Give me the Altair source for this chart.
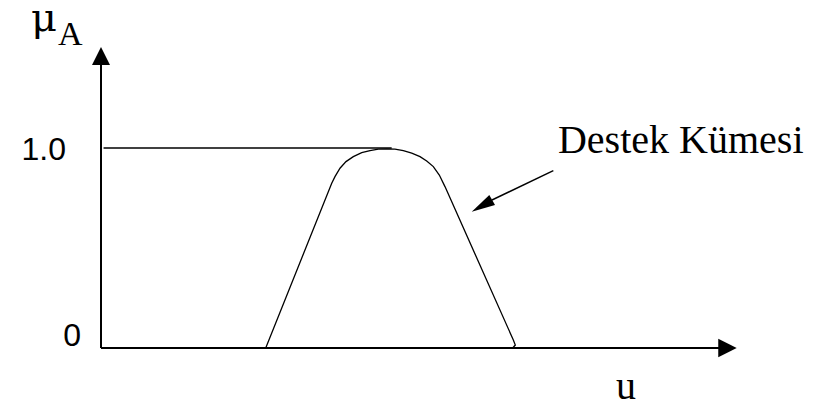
import altair as alt
import pandas as pd

# ---- data ----
# membership function curve (u, mu_A)
curve_u = [2.586, 3.622, 3.673, 3.752, 3.846, 3.961, 4.093, 4.223, 4.353, 4.485,
           4.615, 4.746, 4.878, 5.008, 5.113, 5.217, 5.311, 5.400, 6.473, 6.504, 6.463]
curve_mu = [0.0, 0.824, 0.857, 0.899, 0.932, 0.957, 0.977, 0.987, 0.994, 0.995,
            0.994, 0.987, 0.974, 0.957, 0.935, 0.907, 0.865, 0.807, 0.040, 0.015, 0.0]
tick_values = [0.0, 1.0]
tick_labels = ["0", "1.0"]
ref_level = 1.0
ref_u_range = [0.04, 4.563]
annotation_text = "Destek Kümesi"
x_title = "u"
y_title_main = "μ"
y_title_sub = "A"

PX_U = 63.7      # pixels per unit of u
PX_MU = 200.0    # pixels per unit of mu
W, H = 803, 398
X_DOM = [-93 / PX_U, (W - 93) / PX_U]
Y_DOM = [(340 - H) / PX_MU, 340 / PX_MU]
XS = alt.Scale(domain=X_DOM, nice=False, zero=False)
YS = alt.Scale(domain=Y_DOM, nice=False, zero=False)


def X(v):
    return alt.X(datum=v, type="quantitative", scale=XS, axis=None)


def Y(v):
    return alt.Y(datum=v, type="quantitative", scale=YS, axis=None)


curve_df = pd.DataFrame({"i": list(range(len(curve_u))), "u": curve_u, "mu": curve_mu})

curve = alt.Chart(curve_df).mark_line(color="black", strokeWidth=1.3).encode(
    x=alt.X("u:Q", scale=XS, axis=None),
    y=alt.Y("mu:Q", scale=YS, axis=None),
    order="i:Q",
)

ref_line = alt.Chart().mark_rule(color="black", strokeWidth=1.5).encode(
    x=X(ref_u_range[0]), x2=alt.X2(datum=ref_u_range[1]), y=Y(ref_level)
)

y_axis = alt.Chart().mark_rule(color="black", strokeWidth=2).encode(
    x=X(0), y=Y(0), y2=alt.Y2(datum=1.44)
)
x_axis = alt.Chart().mark_rule(color="black", strokeWidth=2.2).encode(
    x=X(0), x2=alt.X2(datum=9.80), y=Y(0)
)

y_head = alt.Chart().mark_point(
    shape="M0,-1L1,1L-1,1Z", size=324, filled=True, color="black", opacity=1
).encode(x=X(0), y=Y(1.46))

x_head = alt.Chart().mark_point(
    shape="M1,0L-1,-1L-1,1Z", size=340, filled=True, color="black", opacity=1
).encode(x=X(9.835), y=Y(0))

pointer_line = alt.Chart().mark_rule(color="black", strokeWidth=1.4).encode(
    x=X(7.101), x2=alt.X2(datum=6.138), y=Y(0.8865), y2=alt.Y2(datum=0.74)
)
pointer_head = alt.Chart().mark_point(
    shape="M-0.927,0.527L0.673,-0.991L1.191,-0.082Z", size=484, filled=True,
    color="black", opacity=1
).encode(x=X(5.980), y=Y(0.7105))

tick0 = alt.Chart().mark_text(
    text=tick_labels[0], font="Liberation Sans", fontSize=32, align="right",
    baseline="middle", dx=-20, dy=-12, color="black"
).encode(x=X(0), y=Y(tick_values[0]))
tick1 = alt.Chart().mark_text(
    text=tick_labels[1], font="Liberation Sans", fontSize=32, align="right",
    baseline="middle", dx=-35, dy=2, color="black"
).encode(x=X(0), y=Y(tick_values[1]))

annot = alt.Chart().mark_text(
    text=annotation_text, font="Liberation Serif", fontSize=40, align="left",
    baseline="alphabetic", color="black"
).encode(x=X(7.174), y=Y(0.975))

u_label = alt.Chart().mark_text(
    text=x_title, font="Liberation Serif", fontSize=40, align="left",
    baseline="alphabetic", color="black"
).encode(x=X(8.085), y=Y(-0.255))

mu_label = alt.Chart().mark_text(
    text=y_title_main, font="DejaVu Serif", fontSize=40, align="left",
    baseline="alphabetic", color="black"
).encode(x=X(-1.10), y=Y(1.585))
a_label = alt.Chart().mark_text(
    text=y_title_sub, font="Liberation Serif", fontSize=34, align="left",
    baseline="alphabetic", color="black"
).encode(x=X(-0.675), y=Y(1.515))

chart = alt.layer(
    curve, ref_line, y_axis, x_axis, y_head, x_head, pointer_line, pointer_head,
    tick0, tick1, annot, u_label, mu_label, a_label
).properties(
    width=W, height=H, padding=0, autosize=alt.AutoSizeParams(type="none"),
    background="white"
).configure_view(stroke=None)

chart.save("out.html", embed_options={"renderer": "svg", "actions": False})
